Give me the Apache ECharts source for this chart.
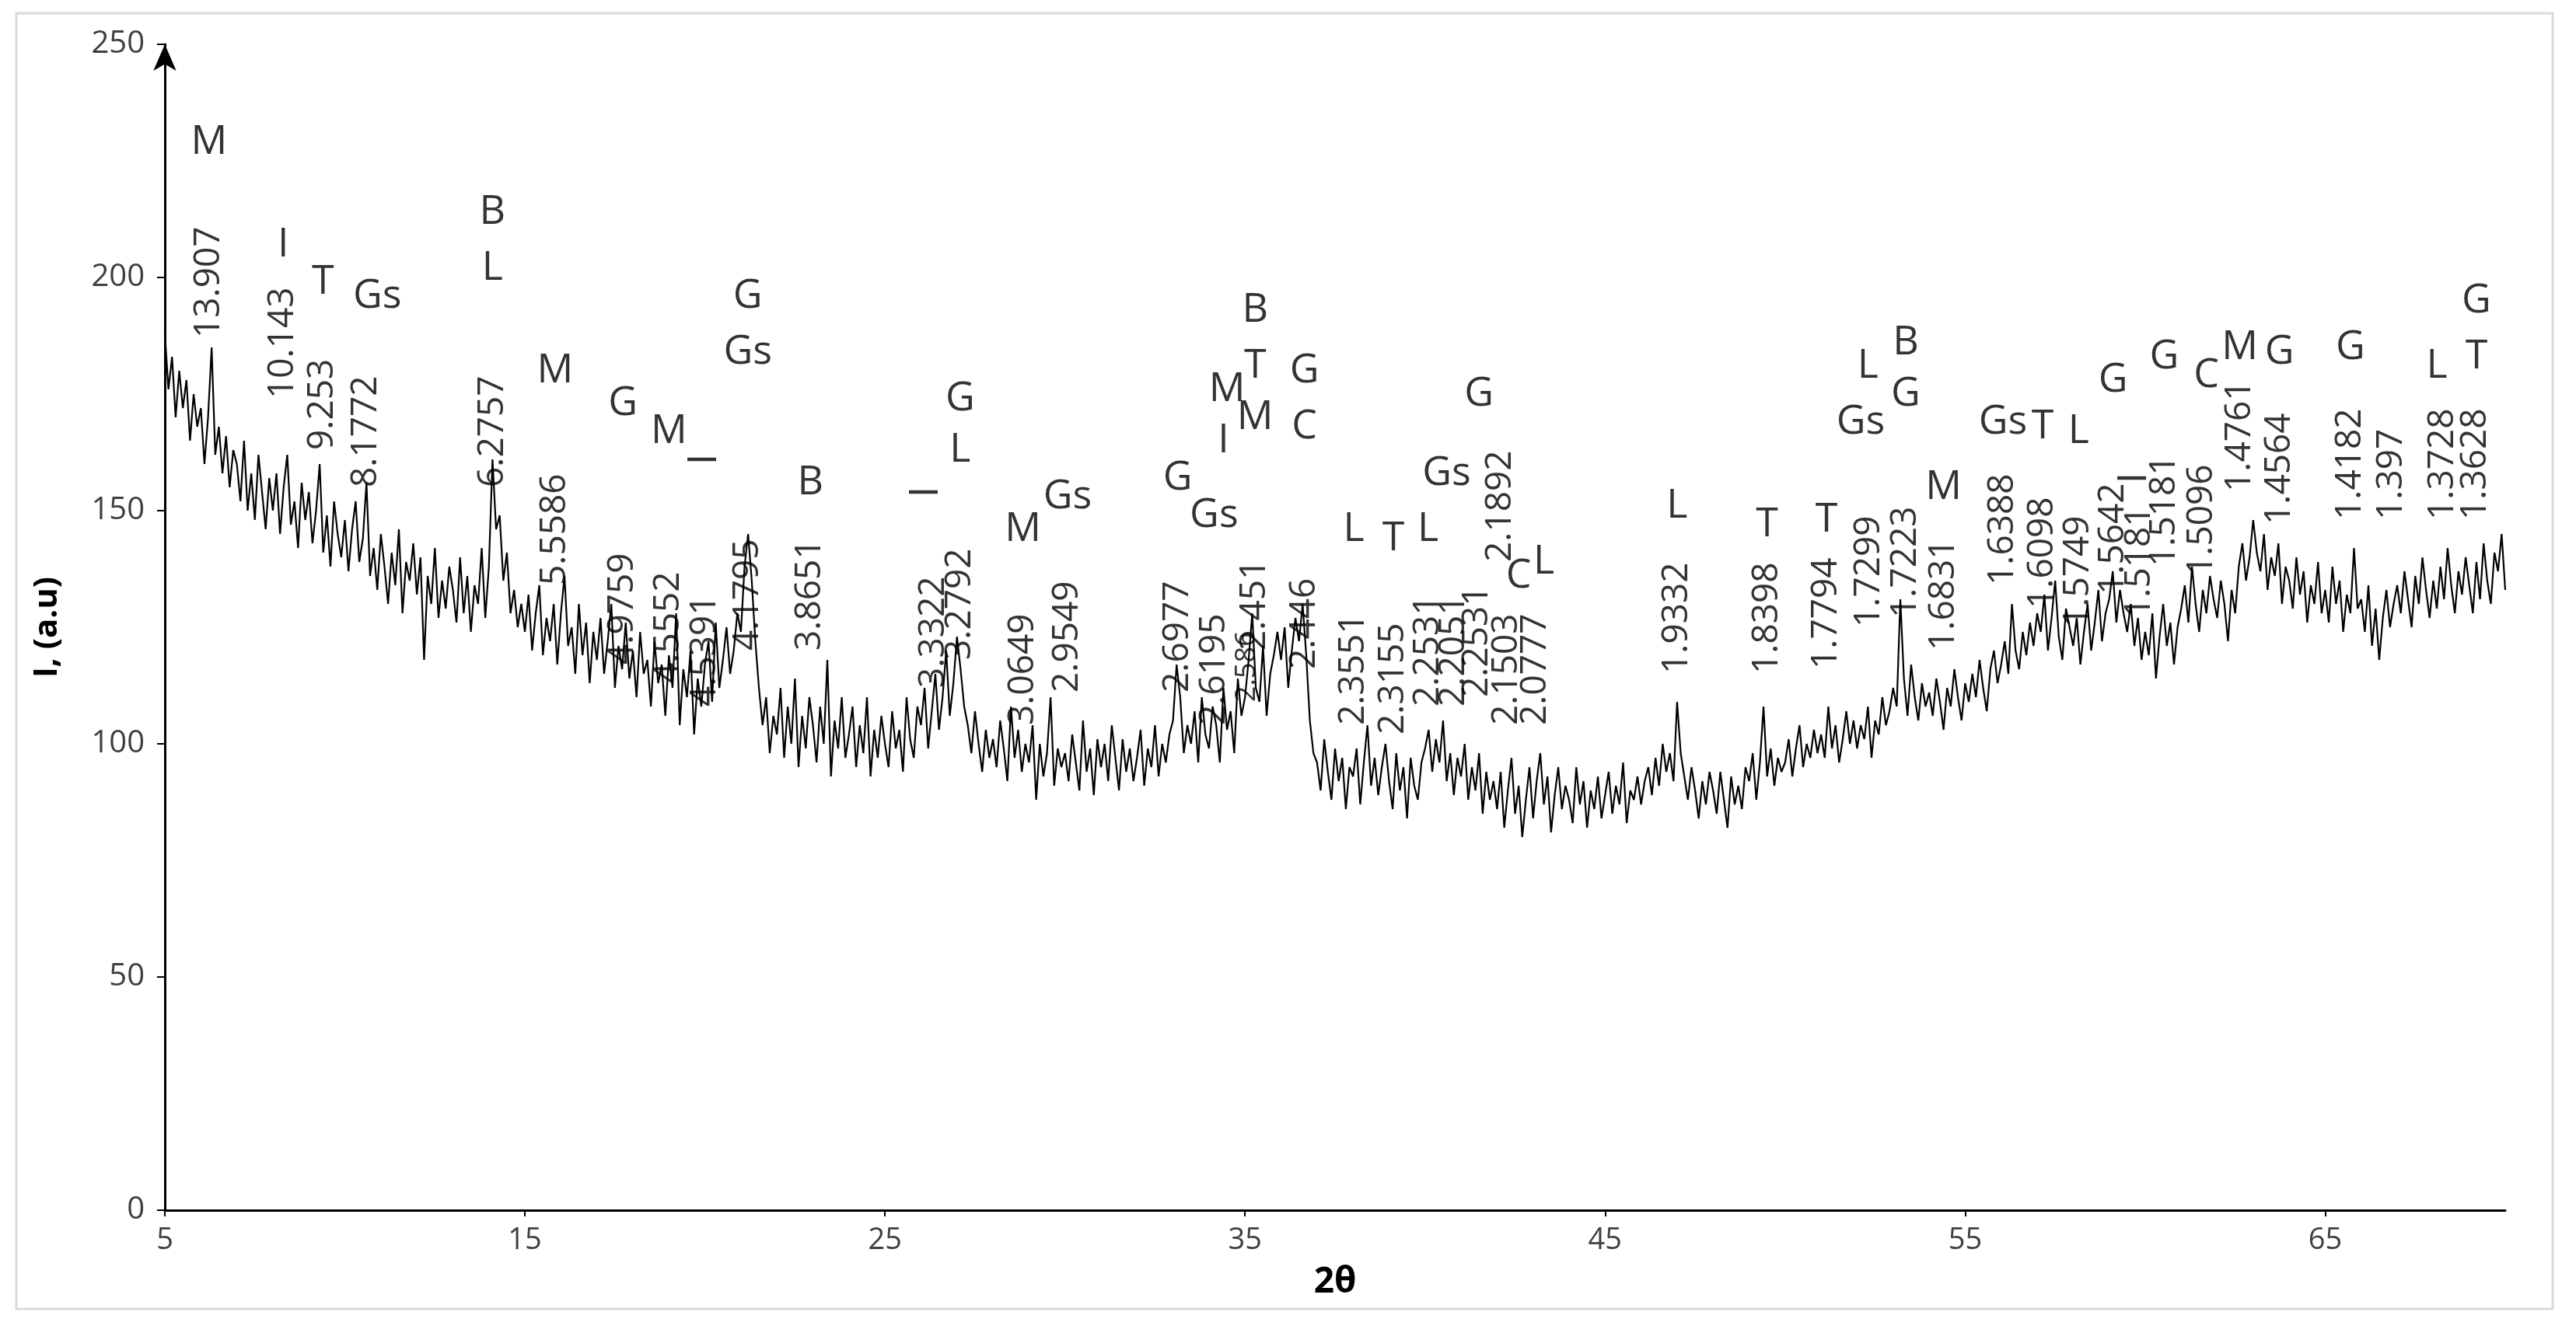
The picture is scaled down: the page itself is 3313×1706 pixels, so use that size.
<!DOCTYPE html>
<html>
<head>
<meta charset="utf-8">
<script src="https://cdn.jsdelivr.net/npm/echarts@6/dist/echarts.min.js"></script>
<style>html,body{margin:0;background:#fff}#c{width:3313px;height:1706px}</style>
</head>
<body>
<div id="c"></div>
<script>
// 2θ 步长 0.1，从 5 开始，每行一度
const thetaStart = 5
const thetaStep = 0.1
const intensityRows = [
  [188,176,183,170,180,172,178,165,175,168],
  [172,160,170,185,162,168,158,166,155,163],
  [160,152,165,150,158,148,162,154,146,157],
  [150,158,145,155,162,147,152,142,156,148],
  [154,143,150,160,141,149,138,152,145,140],
  [148,137,146,152,139,144,156,136,142,133],
  [145,138,130,141,134,146,128,139,135,143],
  [132,140,118,136,130,142,127,135,129,138],
  [133,126,140,128,136,124,134,130,142,127],
  [138,161,146,149,135,141,128,133,125,130],
  [124,132,120,128,134,119,127,122,130,117],
  [128,136,121,125,115,130,119,126,113,124],
  [118,127,115,122,130,112,121,116,126,114],
  [120,110,124,115,118,108,122,113,117,106],
  [119,112,128,104,116,110,120,102,114,108],
  [117,122,109,126,112,118,125,115,120,128],
  [124,138,145,135,122,112,104,110,98,106],
  [102,112,97,108,100,114,95,106,99,110],
  [104,96,108,100,118,93,105,99,110,97],
  [102,108,95,104,98,110,93,103,97,106],
  [100,95,107,99,103,94,110,101,97,108],
  [104,112,99,107,115,103,110,120,106,113],
  [123,116,108,104,98,107,100,94,103,97],
  [101,95,105,99,92,108,97,103,94,100],
  [96,104,88,100,93,98,110,91,99,95],
  [98,92,102,96,90,105,94,99,89,101],
  [95,100,92,104,97,90,101,94,99,92],
  [97,103,91,99,95,104,93,100,96,102],
  [105,117,110,98,104,100,107,96,110,102],
  [99,108,104,96,112,103,107,98,114,106],
  [110,118,128,112,109,121,106,115,119,124],
  [118,125,112,120,127,122,130,119,105,98],
  [96,90,101,94,88,99,92,97,86,95],
  [93,99,87,96,104,91,97,89,95,100],
  [92,86,98,90,95,84,97,91,88,96],
  [99,103,94,101,96,105,92,98,89,97],
  [93,100,88,95,90,98,85,94,88,92],
  [86,94,82,90,97,85,91,80,88,95],
  [84,92,98,87,93,81,89,95,86,91],
  [88,83,95,87,92,82,90,86,93,84],
  [89,94,85,91,87,96,83,90,88,93],
  [87,92,95,89,97,91,100,94,98,92],
  [109,98,93,88,95,90,84,92,87,94],
  [90,85,94,88,82,93,87,91,86,95],
  [92,98,88,96,108,93,99,91,97,94],
  [96,101,93,99,104,95,100,97,103,98],
  [102,97,108,99,104,96,101,107,100,105],
  [99,104,101,108,97,105,102,110,104,107],
  [112,108,131,114,106,117,110,105,113,108],
  [111,106,114,109,103,112,108,116,110,105],
  [113,109,115,110,118,112,107,116,120,113],
  [117,122,115,130,120,116,124,119,126,121],
  [128,124,132,120,127,135,123,118,129,125],
  [121,127,117,124,130,120,126,133,122,128],
  [131,137,126,133,128,124,130,121,127,118],
  [124,119,128,114,123,130,121,126,117,125],
  [129,134,126,138,130,124,133,128,136,131],
  [127,135,130,122,133,128,138,143,135,140],
  [148,141,137,145,133,140,136,143,130,138],
  [135,129,140,132,137,126,134,130,139,128],
  [133,126,138,130,135,124,132,128,142,129],
  [131,124,134,121,129,118,127,133,125,130],
  [134,128,137,131,125,136,130,140,133,127],
  [135,129,138,131,142,134,128,137,132,140],
  [134,128,139,131,143,135,130,141,137,145],
  [133]
]

// d 值标注：[2θ, 强度, 文本]
const dLabels = [
  [6.23,187,'13.907'],[8.29,174,'10.143'],[9.39,163,'9.253'],[10.58,155,'8.1772'],
  [14.1,155,'6.2757'],[15.84,134,'5.5586'],[17.72,117,'4.9759'],[19.0,113,'4.5552'],
  [20.0,108,'4.5391'],[21.19,120,'4.1795'],[22.93,120,'3.8651'],[26.36,112,'3.3322'],
  [27.09,118,'3.2792'],[28.83,104,'3.0649'],[30.07,111,'2.9549'],[33.13,111,'2.6977'],
  [34.14,104,'2.6195'],[35.28,120,'2.451'],[36.65,116,'2.446'],
  [38.02,104,'2.3551'],[39.12,102,'2.3155'],[40.08,108,'2.2531'],[40.81,108,'2.2051'],
  [41.45,110,'2.2531'],[42.1,139,'2.1892'],[42.28,104,'2.1503'],[43.06,104,'2.0777'],
  [47.0,115,'1.9332'],[49.5,115,'1.8398'],[51.15,116,'1.7794'],[52.34,125,'1.7299'],
  [53.35,127,'1.7223'],[54.4,120,'1.6831'],[56.05,134,'1.6388'],[57.15,129,'1.6098'],
  [58.15,125,'1.5749'],[59.11,132,'1.5642'],[59.84,127,'1.5181'],[60.53,138,'1.5181'],
  [61.58,136,'1.5096'],[62.63,154,'1.4761'],[63.73,147,'1.4564'],[65.7,148,'1.4182'],
  [66.84,148,'1.397'],[68.26,148,'1.3728'],[69.17,148,'1.3628']
]
const dSmall = [[35.05,109,'2.586']]

// 物相字母：[2θ, 强度, 字母]
const phaseLetters = [
  [6.23,229,'M'],[8.29,207,'I'],[9.39,199,'T'],[10.9,196,'Gs'],[14.1,214,'B'],[14.1,202,'L'],
  [15.84,180,'M'],[17.72,173,'G'],[19.0,167,'M'],[21.19,196,'G'],[21.19,184,'Gs'],
  [22.93,156,'B'],[27.09,174,'G'],[27.09,163,'L'],[28.83,146,'M'],[30.07,153,'Gs'],
  [33.13,157,'G'],[34.14,149,'Gs'],[34.4,165,'I'],[35.28,193,'B'],[35.28,181,'T'],
  [34.5,176,'M'],[35.28,170,'M'],[36.65,180,'G'],[36.65,168,'C'],[38.02,146,'L'],
  [39.12,144,'T'],[40.08,146,'L'],[40.6,158,'Gs'],[41.5,175,'G'],[42.6,136,'C'],
  [43.3,139,'L'],[47.0,151,'L'],[49.5,147,'T'],[51.15,148,'T'],[52.1,169,'Gs'],
  [52.3,181,'L'],[53.35,175,'G'],[53.35,186,'B'],[54.4,155,'M'],[56.05,169,'Gs'],
  [57.15,168,'T'],[58.15,167,'L'],[59.11,178,'G'],[60.53,183,'G'],[61.7,179,'C'],
  [62.63,185,'M'],[63.73,184,'G'],[65.7,185,'G'],[68.1,181,'L'],[69.2,183,'T'],[69.2,195,'G']
]
// 旋转的 I
const rotatedLetters = [[20.0,161,'I'],[26.15,154,'I'],[59.7,157,'I']]

const xTicks = [5,15,25,35,45,55,65]

const trace = intensityRows.flat().map((v, i) => [+(thetaStart + i * thetaStep).toFixed(1), v])

const font = '"Open Sans", "Noto Sans", sans-serif'
const chart = echarts.init(document.getElementById('c'))
chart.setOption({
  animation: false,
  backgroundColor: '#fff',
  graphic: [{
    type: 'rect', shape: { x: 21, y: 17, width: 3262, height: 1667 },
    style: { fill: 'none', stroke: '#d9d9d9', lineWidth: 3 }
  }],
  grid: { left: 212, right: 91, top: 57, bottom: 149 },
  xAxis: {
    type: 'value', min: 5, max: 70,
    name: '2θ', nameLocation: 'middle', nameGap: 70,
    nameTextStyle: { fontFamily: font, fontSize: 46, fontWeight: 'bold', color: '#000' },
    axisLine: { lineStyle: { color: '#000', width: 3 } },
    axisTick: { show: true, customValues: xTicks, length: 8, lineStyle: { color: '#000', width: 2 } },
    axisLabel: { customValues: xTicks, fontFamily: font, fontSize: 38, color: '#404040', margin: 20 },
    splitLine: { show: false }
  },
  yAxis: {
    type: 'value', min: 0, max: 250, interval: 50,
    name: 'I, (a.u)', nameLocation: 'middle', nameGap: 130, nameRotate: 90,
    nameTextStyle: { fontFamily: font, fontSize: 42, fontWeight: 'bold', color: '#000' },
    axisLine: { show: true, symbol: ['none', 'arrow'], symbolSize: [22, 34], lineStyle: { color: '#000', width: 3 } },
    axisTick: { show: true, length: 10, lineStyle: { color: '#000', width: 2 } },
    axisLabel: { fontFamily: font, fontSize: 40, color: '#404040', margin: 26 },
    splitLine: { show: false }
  },
  series: [
    {
      type: 'line', data: trace, showSymbol: false, symbol: 'none',
      lineStyle: { color: '#000', width: 2.2 }, z: 2
    },
    {
      type: 'scatter', data: dLabels, symbolSize: 0, z: 3,
      label: { show: true, formatter: p => p.data[2], position: [0, 0], rotate: 90,
        align: 'left', verticalAlign: 'middle', fontFamily: font, fontSize: 46, color: '#000' }
    },
    {
      type: 'scatter', data: dSmall, symbolSize: 0, z: 3,
      label: { show: true, formatter: p => p.data[2], position: [0, 0], rotate: 90,
        align: 'left', verticalAlign: 'middle', fontFamily: font, fontSize: 36, color: '#000' }
    },
    {
      type: 'scatter', data: phaseLetters, symbolSize: 0, z: 3,
      label: { show: true, formatter: p => p.data[2], position: [0, 0],
        align: 'center', verticalAlign: 'middle', fontFamily: font, fontSize: 52, color: '#000' }
    },
    {
      type: 'scatter', data: rotatedLetters, symbolSize: 0, z: 3,
      label: { show: true, formatter: p => p.data[2], position: [0, 0], rotate: 90,
        align: 'center', verticalAlign: 'middle', fontFamily: font, fontSize: 52, color: '#000' }
    }
  ]
})
</script>
</body>
</html>
